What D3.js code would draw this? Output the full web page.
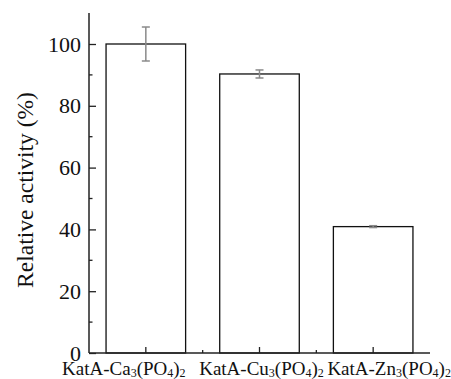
<!DOCTYPE html>
<html><head><meta charset="utf-8">
<script src="https://cdn.jsdelivr.net/npm/d3@7"></script>
<style>body{margin:0;background:#fff}svg{display:block}</style>
</head><body>
<script>
const categories = ["Ca", "Cu", "Zn"];
const values = [100, 90.3, 40.9];
const errors = [5.5, 1.3, 0.3];
const yTicks = [0, 20, 40, 60, 80, 100];
const yLabel = "Relative activity (%)";

const W = 451, H = 379;
const x0 = 89, x1 = 430, yBase = 353, yTop = 13;
const FONT = "font-family:'Liberation Serif','Times New Roman',serif";
const svg = d3.select("body").append("svg").attr("width", W).attr("height", H);

const x = d3.scaleBand().domain(categories).range([x0, x1]).paddingInner(0.3).paddingOuter(0.15);
const y = d3.scaleLinear().domain([0, 110]).range([yBase, yBase - 110 * 3.09]);

// bars
svg.selectAll("rect.bar").data(categories).enter().append("rect")
  .attr("x", d => x(d)).attr("width", x.bandwidth())
  .attr("y", (d, i) => y(values[i])).attr("height", (d, i) => y(0) - y(values[i]))
  .attr("fill", "#fff").attr("stroke", "#111").attr("stroke-width", 1.3);

// error bars
const eg = svg.append("g").attr("stroke", "#8a8a8a").attr("stroke-width", 1.5);
categories.forEach((c, i) => {
  const cx = x(c) + x.bandwidth() / 2;
  const ya = y(values[i] + errors[i]), yb = y(values[i] - errors[i]);
  eg.append("line").attr("x1", cx).attr("x2", cx).attr("y1", ya).attr("y2", yb);
  eg.append("line").attr("x1", cx - 4).attr("x2", cx + 4).attr("y1", ya).attr("y2", ya);
  eg.append("line").attr("x1", cx - 4).attr("x2", cx + 4).attr("y1", yb).attr("y2", yb);
});

// y axis
const yMinor = d3.range(10, 110, 20);
const ya = svg.append("g").attr("transform", `translate(${x0},0)`)
  .call(d3.axisLeft(y).tickValues(yTicks).tickSize(-7).tickPadding(8).tickSizeOuter(0));
ya.attr("font-family", null);
ya.select(".domain").remove();
ya.selectAll("text").attr("style", FONT).attr("font-size", 22).attr("fill", "#111");
ya.selectAll("line").attr("stroke", "#222").attr("stroke-width", 1.3);
svg.append("g").attr("transform", `translate(${x0},0)`)
  .selectAll("line").data(yMinor).enter().append("line")
  .attr("x1", 0).attr("x2", 3.5).attr("y1", d => y(d)).attr("y2", d => y(d))
  .attr("stroke", "#222").attr("stroke-width", 1.3);
svg.append("line").attr("x1", x0).attr("x2", x0).attr("y1", yTop).attr("y2", yBase)
  .attr("stroke", "#222").attr("stroke-width", 1.5);

// x axis
svg.append("line").attr("x1", x0).attr("x2", x1).attr("y1", yBase).attr("y2", yBase)
  .attr("stroke", "#222").attr("stroke-width", 1.5);
const centers = categories.map(c => x(c) + x.bandwidth() / 2);
svg.selectAll("line.xt").data(centers).enter().append("line")
  .attr("x1", d => d).attr("x2", d => d).attr("y1", yBase).attr("y2", yBase - 6)
  .attr("stroke", "#222").attr("stroke-width", 1.3);
const mids = d3.pairs(centers).map(p => (p[0] + p[1]) / 2);
svg.selectAll("line.xm").data(mids).enter().append("line")
  .attr("x1", d => d).attr("x2", d => d).attr("y1", yBase).attr("y2", yBase - 3)
  .attr("stroke", "#222").attr("stroke-width", 1.3);

// x labels
const labelShift = [-22, 2, 16];
categories.forEach((c, i) => {
  const t = svg.append("text").attr("x", centers[i] + labelShift[i]).attr("y", 375)
    .attr("text-anchor", "middle").attr("style", FONT).attr("font-size", 19).attr("fill", "#111");
  t.append("tspan").text("KatA-" + c);
  t.append("tspan").text("3").attr("font-size", 12).attr("dy", 2);
  t.append("tspan").text("(PO").attr("dy", -2);
  t.append("tspan").text("4").attr("font-size", 12).attr("dy", 2);
  t.append("tspan").text(")").attr("dy", -2);
  t.append("tspan").text("2").attr("font-size", 12).attr("dy", 2);
});

// y label
svg.append("text").attr("transform", "translate(33,190) rotate(-90)")
  .attr("text-anchor", "middle").attr("style", FONT).attr("font-size", 23.5).attr("fill", "#111")
  .text(yLabel);
</script>
</body></html>
